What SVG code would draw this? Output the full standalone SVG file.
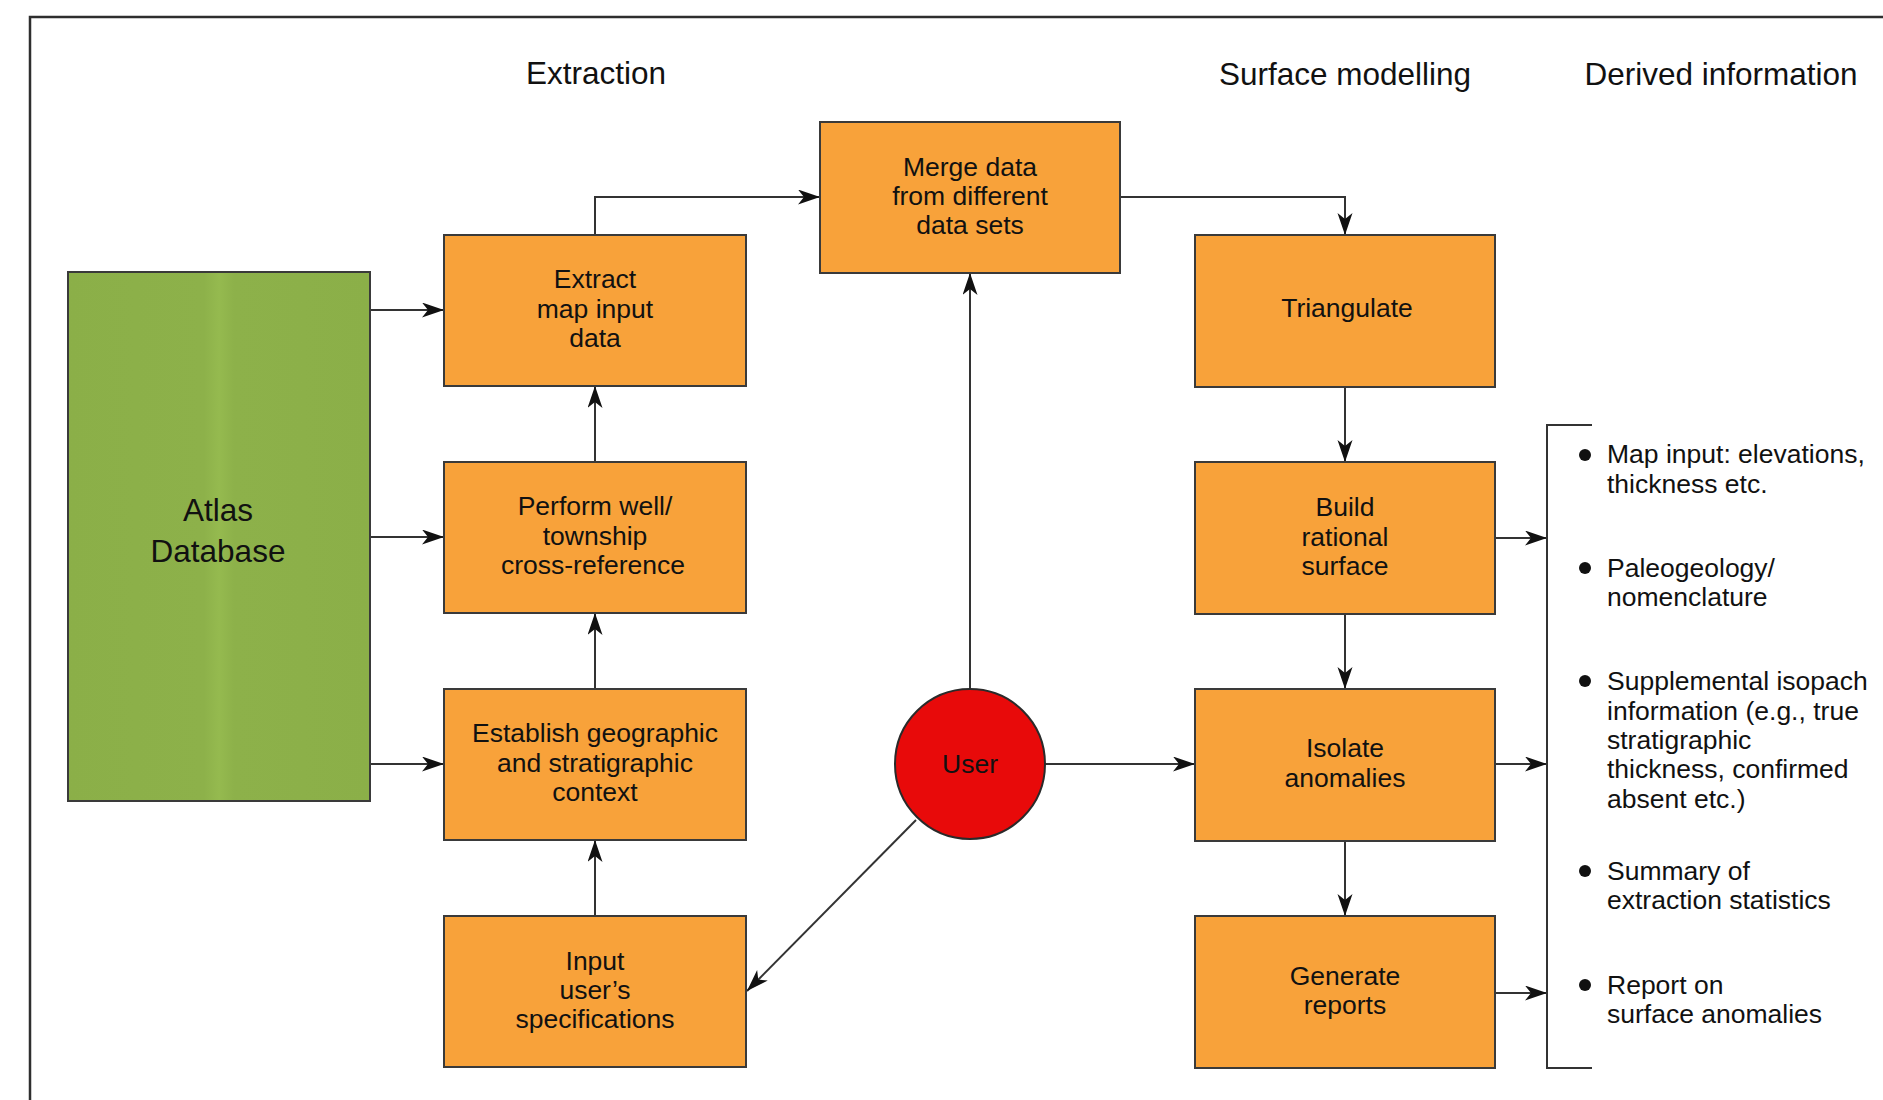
<svg xmlns="http://www.w3.org/2000/svg" width="1883" height="1100" viewBox="0 0 1883 1100">
  <style>
    .frame { fill: none; stroke: #2e2e2e; stroke-width: 2.5; }
    .box { fill: #F8A23A; stroke: #3a3a3a; stroke-width: 2; }
    .db { fill: url(#dbFill); stroke: #3a3a3a; stroke-width: 2; }
    .user { fill: #E80A0A; stroke: #2a2a2a; stroke-width: 2; }
    .lbl { font-family: "Liberation Sans", Arial, sans-serif; font-size: 26.5px; fill: #111; text-anchor: middle; }
    .big { font-family: "Liberation Sans", Arial, sans-serif; font-size: 31.5px; fill: #111; text-anchor: middle; }
    .item { font-family: "Liberation Sans", Arial, sans-serif; font-size: 26.5px; fill: #111; }
    .wire { fill: none; stroke: #333; stroke-width: 2; }
    .arrow { marker-end: url(#head); }
    .dot { fill: #111; }
  </style>
  <defs>
    <linearGradient id="dbFill" x1="0" y1="0" x2="1" y2="0">
      <stop offset="0" stop-color="#8BAF48"/>
      <stop offset="0.45" stop-color="#8DB14A"/>
      <stop offset="0.5" stop-color="#95BA4F"/>
      <stop offset="0.55" stop-color="#8DB14A"/>
      <stop offset="1" stop-color="#8BAF48"/>
    </linearGradient>
    <marker id="head" markerUnits="userSpaceOnUse" markerWidth="24" markerHeight="16" refX="22" refY="7.5" orient="auto">
      <path d="M0,0 L22,7.5 L0,15 L6,7.5 Z" fill="#111"/>
    </marker>
  </defs>

  <!-- page frame -->
  <path class="frame" d="M30,1100 V17 H1883"/>

  <!-- column headings -->
  <text class="big" x="596" y="84">Extraction</text>
  <text class="big" x="1345" y="85">Surface modelling</text>
  <text class="big" x="1721" y="85">Derived information</text>

  <!-- connectors -->
  <g id="connectors">
    <path class="wire arrow" d="M370,310 H444"/>
    <path class="wire arrow" d="M370,537 H444"/>
    <path class="wire arrow" d="M370,764 H444"/>
    <path class="wire arrow" d="M595,689 V613"/>
    <path class="wire arrow" d="M595,462 V386"/>
    <path class="wire arrow" d="M595,916 V840"/>
    <path class="wire arrow" d="M595,235 V197 H820"/>
    <path class="wire arrow" d="M1120,197 H1345 V235"/>
    <path class="wire arrow" d="M1345,387 V462"/>
    <path class="wire arrow" d="M1345,614 V689"/>
    <path class="wire arrow" d="M1345,841 V916"/>
    <path class="wire arrow" d="M970,689 V273"/>
    <path class="wire arrow" d="M1045,764 H1195"/>
    <path class="wire arrow" d="M916,820 L747,991"/>
    <path class="wire arrow" d="M1495,538 H1547"/>
    <path class="wire arrow" d="M1495,764 H1547"/>
    <path class="wire arrow" d="M1495,993 H1547"/>
    <path class="wire" d="M1592,425 H1547 V1068 H1592"/>
  </g>

  <!-- nodes -->
  <g id="atlas-database">
    <rect class="db" x="68" y="272" width="302" height="529"/>
    <text class="big" x="218" y="521">Atlas</text>
    <text class="big" x="218" y="562">Database</text>
  </g>

  <g id="extract-map-input">
    <rect class="box" x="444" y="235" width="302" height="151"/>
    <text class="lbl" x="595" y="288">Extract</text>
    <text class="lbl" x="595" y="318">map input</text>
    <text class="lbl" x="595" y="347">data</text>
  </g>

  <g id="cross-reference">
    <rect class="box" x="444" y="462" width="302" height="151"/>
    <text class="lbl" x="595" y="515">Perform well/</text>
    <text class="lbl" x="595" y="545">township</text>
    <text class="lbl" x="593" y="574">cross-reference</text>
  </g>

  <g id="establish-context">
    <rect class="box" x="444" y="689" width="302" height="151"/>
    <text class="lbl" x="595" y="742">Establish geographic</text>
    <text class="lbl" x="595" y="772">and stratigraphic</text>
    <text class="lbl" x="595" y="801">context</text>
  </g>

  <g id="input-specifications">
    <rect class="box" x="444" y="916" width="302" height="151"/>
    <text class="lbl" x="595" y="970">Input</text>
    <text class="lbl" x="595" y="999">user’s</text>
    <text class="lbl" x="595" y="1028">specifications</text>
  </g>

  <g id="merge-data">
    <rect class="box" x="820" y="122" width="300" height="151"/>
    <text class="lbl" x="970" y="176">Merge data</text>
    <text class="lbl" x="970" y="205">from different</text>
    <text class="lbl" x="970" y="234">data sets</text>
  </g>

  <g id="user">
    <circle class="user" cx="970" cy="764" r="75"/>
    <text class="lbl" x="970" y="773">User</text>
  </g>

  <g id="triangulate">
    <rect class="box" x="1195" y="235" width="300" height="152"/>
    <text class="lbl" x="1347" y="317">Triangulate</text>
  </g>

  <g id="rational-surface">
    <rect class="box" x="1195" y="462" width="300" height="152"/>
    <text class="lbl" x="1345" y="516">Build</text>
    <text class="lbl" x="1345" y="546">rational</text>
    <text class="lbl" x="1345" y="575">surface</text>
  </g>

  <g id="isolate-anomalies">
    <rect class="box" x="1195" y="689" width="300" height="152"/>
    <text class="lbl" x="1345" y="757">Isolate</text>
    <text class="lbl" x="1345" y="787">anomalies</text>
  </g>

  <g id="generate-reports">
    <rect class="box" x="1195" y="916" width="300" height="152"/>
    <text class="lbl" x="1345" y="985">Generate</text>
    <text class="lbl" x="1345" y="1014">reports</text>
  </g>

  <!-- derived information list -->
  <g id="derived-list">
    <circle class="dot" cx="1585" cy="455" r="6"/>
    <text class="item" x="1607" y="463">Map input: elevations,</text>
    <text class="item" x="1607" y="493">thickness etc.</text>

    <circle class="dot" cx="1585" cy="568" r="6"/>
    <text class="item" x="1607" y="577">Paleogeology/</text>
    <text class="item" x="1607" y="606">nomenclature</text>

    <circle class="dot" cx="1585" cy="681" r="6"/>
    <text class="item" x="1607" y="690">Supplemental isopach</text>
    <text class="item" x="1607" y="720">information (e.g., true</text>
    <text class="item" x="1607" y="749">stratigraphic</text>
    <text class="item" x="1607" y="778">thickness, confirmed</text>
    <text class="item" x="1607" y="808">absent etc.)</text>

    <circle class="dot" cx="1585" cy="871" r="6"/>
    <text class="item" x="1607" y="880">Summary of</text>
    <text class="item" x="1607" y="909">extraction statistics</text>

    <circle class="dot" cx="1585" cy="985" r="6"/>
    <text class="item" x="1607" y="994">Report on</text>
    <text class="item" x="1607" y="1023">surface anomalies</text>
  </g>
</svg>
